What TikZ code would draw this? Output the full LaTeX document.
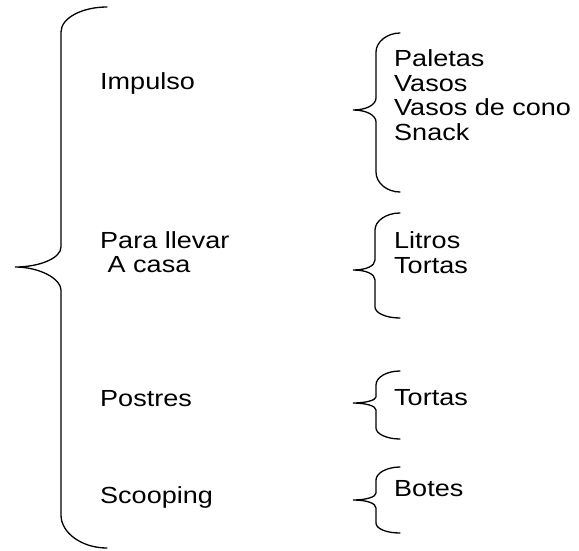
\documentclass[tikz,border=0pt]{standalone}
\usepackage{fontspec}
\setmainfont{Liberation Sans}[FakeStretch=1.16]
\begin{document}
\begin{tikzpicture}[x=1pt,y=-1pt,
	brace/.style={line width=1.3pt,line cap=round},
	word/.style={anchor=base west,inner sep=0pt,font=\fontsize{23.3}{24.5}\selectfont}]
			\useasboundingbox (0,0) rectangle (579,550);
			% big brace
			\draw [brace] (107,7) .. controls (82,7) and (61,18) .. (61,32) -- (61,247)
				.. controls (61,258) and (40,267) .. (15,267)
				.. controls (40,267) and (61,279) .. (61,290) -- (61,515)
				.. controls (61,533) and (82,548) .. (107,548);
			% small braces
			\draw [brace] (400,33) .. controls (387,33) and (376,42) .. (376,52) -- (376,98)
				.. controls (376,105) and (366,110) .. (353,110)
				.. controls (366,110) and (376,115) .. (376,122) -- (376,172)
				.. controls (376,183) and (387,192) .. (400,192);
			\draw [brace] (400,213) .. controls (386,213) and (375,221) .. (375,230) -- (375,260)
				.. controls (375,266) and (366,270) .. (353,270)
				.. controls (366,270) and (375,274) .. (375,280) -- (375,307)
				.. controls (375,313) and (386,318) .. (400,318);
			\draw [brace] (400,371) .. controls (387,371) and (376,377) .. (376,385) -- (376,397)
				.. controls (376,400) and (366,403) .. (353,403)
				.. controls (366,403) and (376,406) .. (376,410) -- (376,428)
				.. controls (376,434) and (387,439) .. (400,439);
			\draw [brace] (400,467) .. controls (387,467) and (376,473) .. (376,480) -- (376,493)
				.. controls (376,497) and (366,500) .. (353,500)
				.. controls (366,500) and (376,503) .. (376,508) -- (376,523)
				.. controls (376,529) and (387,533) .. (400,533);
			% left column
			\node [word] (impulso) at (100,89.3) {Impulso};
			\node [word] (llevar) at (100,248.3) {Para llevar};
			\node [word] (acasa) at (100,272.7) {\ A casa};
			\node [word] (postres) at (100,406) {Postres};
			\node [word] (scooping) at (100,503.3) {Scooping};
			% right column
			\node [word] (paletas) at (394,66.7) {Paletas};
			\node [word] (vasos) at (394,91.2) {Vasos};
			\node [word] (cono) at (394,115.7) {Vasos de cono};
			\node [word] (snack) at (394,140.2) {Snack};
			\node [word] (litros) at (394,248.3) {Litros};
			\node [word] (tortasA) at (394,273) {Tortas};
			\node [word] (tortasB) at (394,405) {Tortas};
			\node [word] (botes) at (394,496.7) {Botes};
		\end{tikzpicture}
\end{document}
